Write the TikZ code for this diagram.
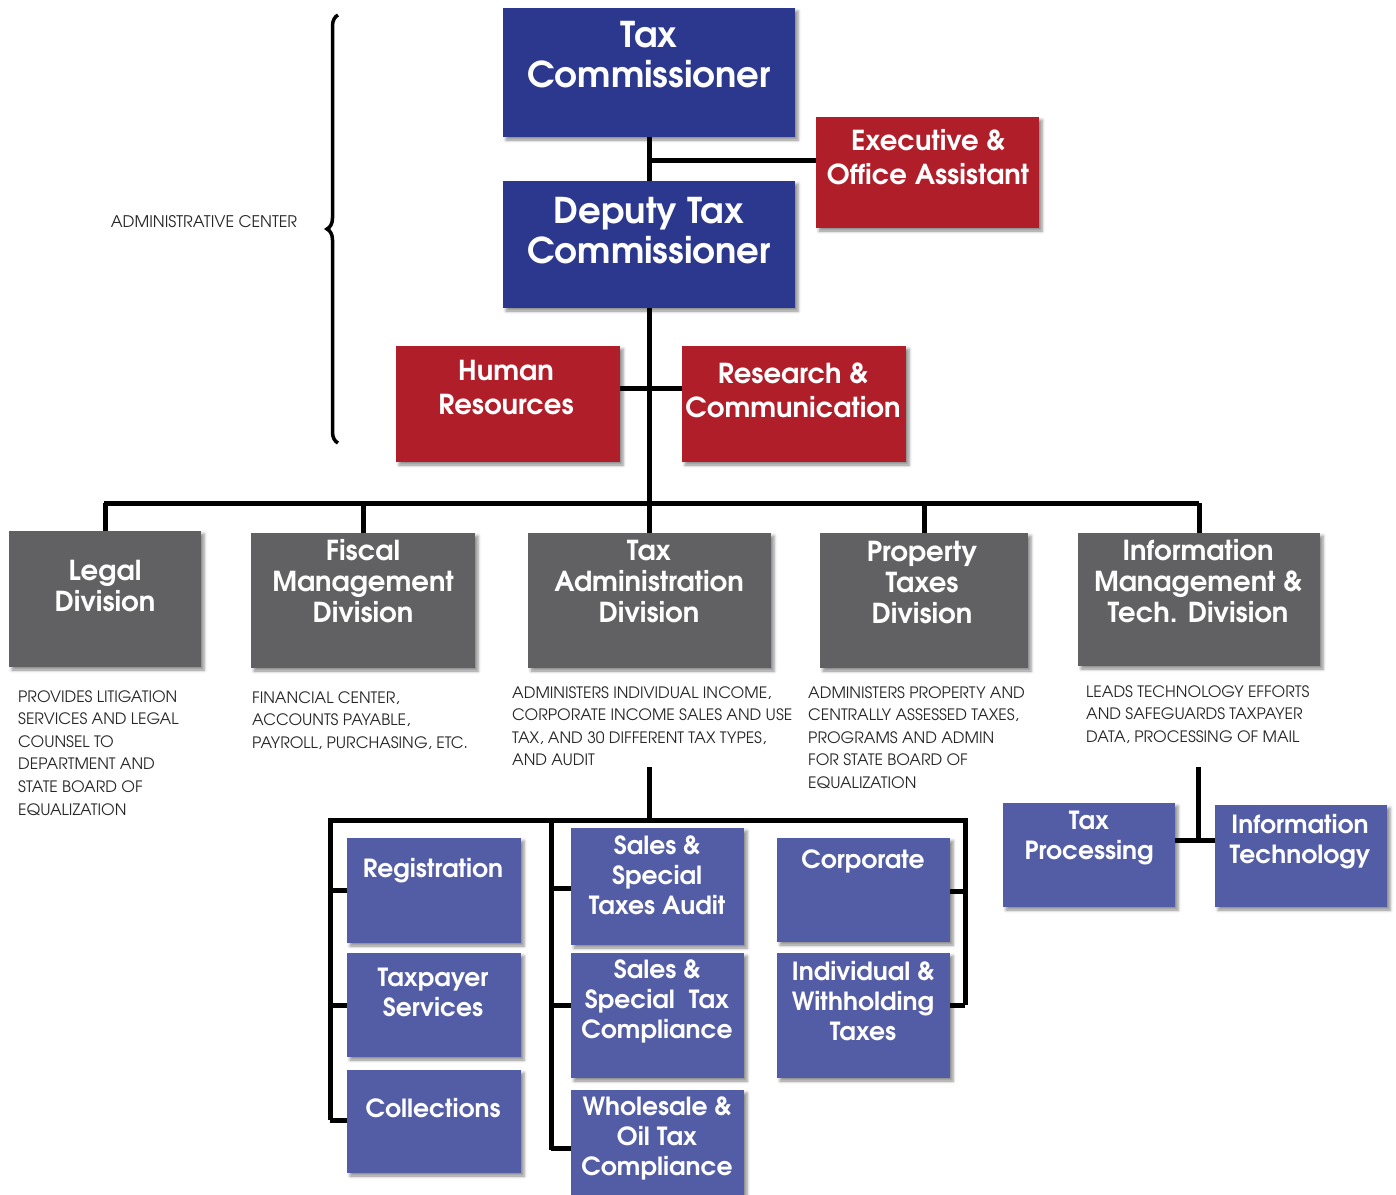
\documentclass[tikz,border=0pt]{standalone}
\usepackage{fontspec}
\newfontfamily\advb{texgyreadventor-bold.otf}
\newfontfamily\advr{texgyreadventor-regular.otf}
\usetikzlibrary{fit,shadows,shadows.blur,decorations.pathreplacing}
\definecolor{topblue}{RGB}{43,56,142}
\definecolor{redbox}{RGB}{176,30,42}
\definecolor{graybox}{RGB}{97,97,99}
\definecolor{subblue}{RGB}{83,93,165}
\begin{document}
\begin{tikzpicture}[x=1pt,y=-1pt,
  shad/.style={blur shadow={shadow xshift=3pt,shadow yshift=-3pt,shadow blur radius=3pt,shadow opacity=45}},
  boxbase/.style={inner sep=0pt,draw=none,shad},
  topbox/.style={boxbase,fill=topblue},
  redb/.style={boxbase,fill=redbox},
  grayb/.style={boxbase,fill=graybox},
  subb/.style={boxbase,fill=subblue},
  txt/.style={text=white,align=center,inner sep=0pt},
  ttop/.style={txt,font=\advb\fontsize{35.5}{40}\selectfont},
  tred/.style={txt,font=\advb\fontsize{27.5}{34}\selectfont},
  tgray/.style={txt,font=\advb\fontsize{27.5}{31}\selectfont},
  tsub/.style={txt,font=\advb\fontsize{25}{30}\selectfont},
  conn/.style={line width=5pt,draw=black},
  desc/.style={font=\advr\fontsize{15.7}{22.6}\selectfont,align=left,anchor=north west,inner sep=0pt,text=black!85}
]
\useasboundingbox (0,0) rectangle (1396,1194);
% brace
\draw[line width=3.5pt,decorate,decoration={brace,amplitude=11pt}] (338,443) -- (338,15);
\node[inner sep=0pt,font=\advr\fontsize{16}{18}\selectfont,text=black!85] (adm) at (204,222) {ADMINISTRATIVE CENTER};
% connectors (drawn first)
\coordinate (exj) at (649,160);
\coordinate (exr) at (816,160);
\coordinate (hrj) at (620,388);
\coordinate (rcj) at (682,388);
\coordinate (bustop) at (649,503);
\coordinate (busL) at (104,503);
\coordinate (busR) at (1199,503);
\draw[conn] (649,137) -- (bustop);
\draw[conn] (exj) -- (exr);
\draw[conn] (hrj) -- (rcj);
\draw[conn] (busL) -- (busR);
% top level boxes
\node[topbox,fit={(503,8) (795,137)}] (tc) {};
\node[ttop] (tct) at (649,55) {Tax\\Commissioner};
\node[redb,fit={(816,117) (1039,228)}] (ex) {};
\node[tred] (ext) at (928,157) {Executive \&\\Office Assistant};
\node[topbox,fit={(503,181) (795,308)}] (dtc) {};
\node[ttop] (dtct) at (649,231) {Deputy Tax\\Commissioner};
\node[redb,fit={(396,346) (620,462)}] (hr) {};
\node[tred] (hrt) at (506,388) {Human\\Resources};
\node[redb,fit={(682,346) (906,462)}] (rc) {};
\node[tred] (rct) at (793,390) {Research \&\\Communication};
% divisions
\node[grayb,fit={(9,531) (201,667)}] (legal) {};
\node[tgray] (legalt) at (105,586) {Legal\\Division};
\node[grayb,fit={(251,533) (475,668)}] (fisc) {};
\node[tgray] (fisct) at (363,581) {Fiscal\\Management\\Division};
\node[grayb,fit={(528,533) (771,668)}] (tadm) {};
\node[tgray] (tadmt) at (649,582) {Tax\\Administration\\Division};
\node[grayb,fit={(820,533) (1028,668)}] (prop) {};
\node[tgray] (propt) at (922,583) {Property\\Taxes\\Division};
\node[grayb,fit={(1078,533) (1320,666)}] (info) {};
\node[tgray] (infot) at (1198,581) {Information\\Management \&\\Tech. Division};
\foreach \n in {legal,fisc,tadm,prop,info}
  \draw[conn] (\n.north) -- (\n.north |- bustop);
% descriptions
\node[desc] (legald) at (18,690) {PROVIDES LITIGATION\\SERVICES AND LEGAL\\COUNSEL TO\\DEPARTMENT AND\\STATE BOARD OF\\EQUALIZATION};
\node[desc] (fiscd) at (252,691) {FINANCIAL CENTER,\\ACCOUNTS PAYABLE,\\PAYROLL, PURCHASING, ETC.};
\node[desc] (tadmd) at (512,686) {ADMINISTERS INDIVIDUAL INCOME,\\CORPORATE INCOME SALES AND USE\\TAX, AND 30 DIFFERENT TAX TYPES,\\AND AUDIT};
\node[desc] (propd) at (808,686) {ADMINISTERS PROPERTY AND\\CENTRALLY ASSESSED TAXES,\\PROGRAMS AND ADMIN\\FOR STATE BOARD OF\\EQUALIZATION};
\node[desc] (infod) at (1086,685) {LEADS TECHNOLOGY EFFORTS\\AND SAFEGUARDS TAXPAYER\\DATA, PROCESSING OF MAIL};
% tax administration sub tree
\coordinate (st) at (649,767);
\coordinate (sb) at (649,820);
\coordinate (sbL) at (330,820);
\coordinate (sbM) at (551,820);
\coordinate (sbR) at (965,820);
\coordinate (lb) at (330,1120);
\coordinate (mb) at (551,1150);
\coordinate (rb) at (965,1005);
\draw[conn] (st) -- (sb);
\draw[conn,line join=miter] (lb) -- (sbL) -- (sbR) -- (rb);
\draw[conn] (sbM) -- (mb);
\node[subb,fit={(347,838) (521,943)}] (reg) {};
\node[tsub] (regt) at (433,871) {Registration};
\node[subb,fit={(347,953) (521,1057)}] (tps) {};
\node[tsub] (tpst) at (433,992) {Taxpayer\\Services};
\node[subb,fit={(347,1070) (521,1173)}] (col) {};
\node[tsub] (colt) at (433,1108) {Collections};
\node[subb,fit={(571,828) (744,945)}] (ssa) {};
\node[tsub] (ssat) at (657,875) {Sales \&\\Special\\Taxes Audit};
\node[subb,fit={(571,953) (744,1078)}] (ssc) {};
\node[tsub] (ssct) at (657,1001) {Sales \&\\Special\ \ Tax\\Compliance};
\node[subb,fit={(571,1090) (744,1200)}] (wh) {};
\node[tsub] (wht) at (657,1138) {Wholesale \&\\Oil Tax\\Compliance};
\node[subb,fit={(777,838) (950,942)}] (corp) {};
\node[tsub] (corpt) at (863,861) {Corporate};
\node[subb,fit={(777,953) (950,1078)}] (ind) {};
\node[tsub] (indt) at (863,1001) {Individual \&\\Withholding\\Taxes};
\draw[conn] (sbL |- reg.west) -- (reg.west);
\draw[conn] (sbL |- tps.west) -- (tps.west);
\draw[conn] (lb) -- (col.west |- lb);
\coordinate (m1) at (551,888);
\coordinate (m2) at (551,1005);
\coordinate (m3) at (551,1148);
\draw[conn] (m1) -- (m1 -| ssa.west);
\draw[conn] (m2) -- (m2 -| ssc.west);
\draw[conn] (m3) -- (m3 -| wh.west);
\coordinate (r1) at (965,891);
\draw[conn] (r1) -- (r1 -| corp.east);
\draw[conn] (rb) -- (rb -| ind.east);
% info sub tree
\coordinate (it0) at (1198,767);
\coordinate (itj) at (1198,840);
\node[subb,fit={(1003,803) (1175,907)}] (tp) {};
\node[tsub] (tpt) at (1089,838) {Tax\\Processing};
\node[subb,fit={(1215,805) (1387,907)}] (it) {};
\node[tsub] (itt) at (1300,842) {Information\\Technology};
\draw[conn] (it0) -- (itj);
\draw[conn] (itj -| tp.east) -- (itj -| it.west);
\end{tikzpicture}
\end{document}
